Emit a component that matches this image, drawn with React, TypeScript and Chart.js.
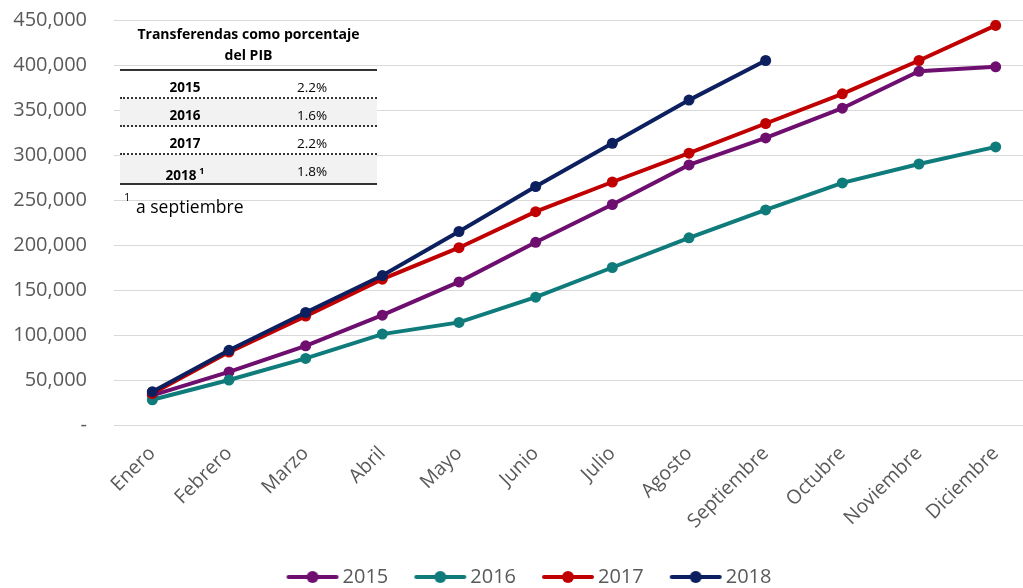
import React, { useEffect, useRef } from "react";
import { Chart, registerables } from "chart.js";

Chart.register(...registerables);

const months = [
  "Enero", "Febrero", "Marzo", "Abril", "Mayo", "Junio",
  "Julio", "Agosto", "Septiembre", "Octubre", "Noviembre", "Diciembre",
];
const years = ["2015", "2016", "2017", "2018"];
const values2015 = [33000, 59000, 88000, 122000, 159000, 203000, 245000, 289000, 319000, 352000, 393000, 398000];
const values2016 = [28000, 50000, 74000, 101000, 114000, 142000, 175000, 208000, 239000, 269000, 290000, 309000];
const values2017 = [35000, 81000, 121000, 162000, 197000, 237000, 270000, 302000, 335000, 368000, 405000, 444000];
const values2018 = [37000, 83000, 125000, 166000, 215000, 265000, 313000, 361000, 405000];
const seriesColors = ["#6E0F70", "#0F7B7B", "#C00000", "#0C1F5E"];
const yTickValues = [0, 50000, 100000, 150000, 200000, 250000, 300000, 350000, 400000, 450000];
const tableYears = ["2015", "2016", "2017", "2018"];
const tablePcts = ["2.2%", "1.6%", "2.2%", "1.8%"];

const FONT = "'Open Sans', 'Noto Sans', sans-serif";
const GRAY = "#595959";

function legendImage(color: string) {
  const c = document.createElement("canvas");
  c.width = 54;
  c.height = 14;
  const ctx = c.getContext("2d")!;
  ctx.strokeStyle = color;
  ctx.lineWidth = 4;
  ctx.lineCap = "round";
  ctx.beginPath();
  ctx.moveTo(3, 7);
  ctx.lineTo(51, 7);
  ctx.stroke();
  ctx.fillStyle = color;
  ctx.beginPath();
  ctx.arc(27, 7, 6, 0, Math.PI * 2);
  ctx.fill();
  return c;
}

const legendShift = {
  id: "legendShift",
  afterLayout(chart: any) {
    if (chart.legend) chart.legend.left += 30;
  },
};

export default function App() {
  const ref = useRef<HTMLCanvasElement | null>(null);

  useEffect(() => {
    if (!ref.current) return;
    const all = [values2015, values2016, values2017, values2018];
    const images = seriesColors.map((c) => legendImage(c));
    const chart = new Chart(ref.current, {
      type: "line",
      data: {
        labels: months,
        datasets: years.map((y, i) => ({
          label: y,
          data: all[i],
          borderColor: seriesColors[i],
          backgroundColor: seriesColors[i],
          borderWidth: 4,
          pointRadius: 5.5,
          pointHoverRadius: 5.5,
          pointBorderWidth: 0,
          pointBackgroundColor: seriesColors[i],
          tension: 0,
          fill: false,
          order: 3 - i,
        })),
      },
      plugins: [legendShift],
      options: {
        responsive: false,
        animation: false,
        devicePixelRatio: 1,
        layout: { padding: { left: 0, right: 11, top: 20, bottom: 0 } },
        scales: {
          x: {
            offset: true,
            grid: { display: false },
            border: { display: false },
            ticks: {
              color: GRAY,
              font: { family: FONT, size: 19.5 },
              minRotation: 45,
              maxRotation: 45,
              padding: 9,
              autoSkip: false,
            },
            afterFit: (scale: any) => {
              scale.height = 110;
            },
          },
          y: {
            min: 0,
            max: 450000,
            afterBuildTicks: (scale: any) => {
              scale.ticks = yTickValues.map((v) => ({ value: v }));
            },
            grid: { color: "#D9D9D9", lineWidth: 1, drawTicks: false },
            border: { display: false },
            ticks: {
              color: GRAY,
              font: { family: FONT, size: 20 },
              padding: 27,
              callback: (v: any) => (Number(v) === 0 ? "-" : Number(v).toLocaleString("en-US")),
            },
            afterFit: (scale: any) => {
              scale.width = 114;
              scale.paddingTop = 0;
              scale.paddingBottom = 0;
            },
          },
        },
        plugins: {
          tooltip: { enabled: false },
          legend: {
            position: "bottom",
            labels: {
              usePointStyle: true,
              pointStyleWidth: 40,
              padding: 32,
              color: GRAY,
              font: { family: FONT, size: 20 },
              generateLabels: (ch: any) =>
                ch.data.datasets.map((ds: any, i: number) => ({
                  text: ds.label,
                  fillStyle: seriesColors[i],
                  strokeStyle: seriesColors[i],
                  fontColor: GRAY,
                  lineWidth: 0,
                  pointStyle: images[i],
                  hidden: false,
                  datasetIndex: i,
                })),
            },
          },
        },
      },
    } as any);
    return () => chart.destroy();
  }, []);

  const rowTop = [71, 99, 127, 155];
  return (
    <div style={{ position: "absolute", left: 0, top: 0, width: 1023, height: 588, overflow: "hidden", background: "#fff" }}>
      <canvas ref={ref} width={1045} height={597} style={{ position: "absolute", left: 0, top: 0, width: 1045, height: 597 }} />
      <div style={{ position: "absolute", left: 120, top: 22, width: 257, fontFamily: FONT, color: "#000" }}>
        <div style={{ position: "absolute", left: -10, top: 2, width: 277, textAlign: "center", fontWeight: 700, fontSize: 14, lineHeight: "20px" }}>
          Transferendas como porcentaje
        </div>
        <div style={{ position: "absolute", left: 0, top: 23, width: 257, textAlign: "center", fontWeight: 700, fontSize: 14, lineHeight: "20px" }}>
          del PIB
        </div>
      </div>
      <div style={{ position: "absolute", left: 120, top: 69, width: 257, height: 0, borderTop: "2px solid #333" }} />
      {tableYears.map((y, i) => (
        <div key={y} style={{ position: "absolute", left: 120, top: rowTop[i], width: 257, height: 28, background: i % 2 === 1 ? "#F2F2F2" : "transparent", fontFamily: FONT, fontSize: 13.5, color: "#000" }}>
          <div style={{ position: "absolute", left: 25, width: 80, top: 6, textAlign: "center", fontWeight: 700, lineHeight: "20px" }}>
            {y}
            {i === 3 ? <sup style={{ fontSize: 9, marginLeft: 3 }}>1</sup> : null}
          </div>
          <div style={{ position: "absolute", left: 152, width: 80, top: 6, textAlign: "center", lineHeight: "20px" }}>{tablePcts[i]}</div>
          {i < 3 ? (
            <div style={{ position: "absolute", left: 0, top: 26, width: 257, borderTop: "2px dotted #333" }} />
          ) : null}
        </div>
      ))}
      <div style={{ position: "absolute", left: 120, top: 183, width: 257, borderTop: "2px solid #333" }} />
      <div style={{ position: "absolute", left: 124, top: 190, fontFamily: FONT, color: "#000" }}>
        <span style={{ position: "absolute", left: 0, top: 0, fontSize: 11, lineHeight: "14px" }}>1</span>
        <span style={{ position: "absolute", left: 12, top: 4, fontSize: 17.5, lineHeight: "24px", whiteSpace: "nowrap" }}>a septiembre</span>
      </div>
    </div>
  );
}
